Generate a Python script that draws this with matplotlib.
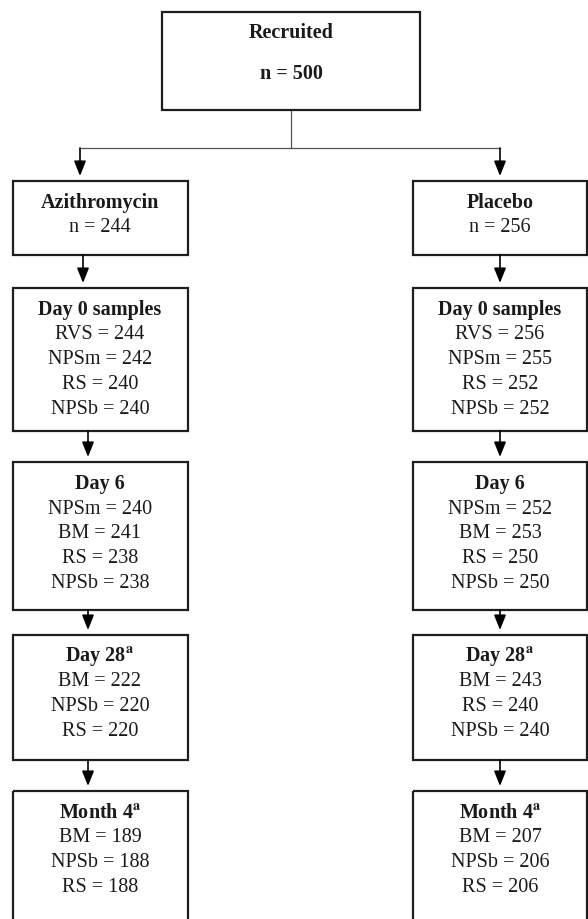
import matplotlib
matplotlib.use('Agg')
import matplotlib.pyplot as plt
from matplotlib.patches import Rectangle, FancyArrowPatch

plt.rcParams['font.family'] = ['Liberation Serif', 'DejaVu Serif']
plt.rcParams['mathtext.fontset'] = 'stix'

# data
recruited = 500
arms = ['Azithromycin', 'Placebo']
arm_n = [244, 256]
stages = ['Day 0 samples', 'Day 6', 'Day 28', 'Month 4']
stage_note = [False, False, True, True]  # footnote "a"
azi_samples = [
    [('RVS', 244), ('NPSm', 242), ('RS', 240), ('NPSb', 240)],
    [('NPSm', 240), ('BM', 241), ('RS', 238), ('NPSb', 238)],
    [('BM', 222), ('NPSb', 220), ('RS', 220)],
    [('BM', 189), ('NPSb', 188), ('RS', 188)],
]
pla_samples = [
    [('RVS', 256), ('NPSm', 255), ('RS', 252), ('NPSb', 252)],
    [('NPSm', 252), ('BM', 253), ('RS', 250), ('NPSb', 250)],
    [('BM', 243), ('RS', 240), ('NPSb', 240)],
    [('BM', 207), ('NPSb', 206), ('RS', 206)],
]

# layout (pixel units, y downward)
col_x = [(13, 188), (413, 587)]
col_text_x = [100, 500]
col_arrow_x = [[80, 83, 88, 88, 88], [500, 500, 500, 500, 500]]
box_y = [(182, 256), (289, 432), (463, 611), (636, 761), (792, 930)]
split_y = 149
top_box = (162, 420, 13, 111)

EDGE = '#1e1e1e'
TXT = '#1a1a1a'
FS = 14.5

fig = plt.figure(figsize=(5.88, 9.2), dpi=100)
ax = fig.add_axes([0, 0, 1, 1])
ax.set_xlim(0, 588)
ax.set_ylim(920, 0)
ax.axis('off')


def box(x0, x1, y0, y1):
    ax.add_patch(Rectangle((x0, y0), x1 - x0, y1 - y0, fill=False,
                           edgecolor=EDGE, linewidth=1.6, zorder=2))


def arrow(x, y0, y1):
    ax.add_patch(FancyArrowPatch((x, y0), (x, y1),
                                 arrowstyle='-|>,head_length=0.5,head_width=0.2',
                                 mutation_scale=18, color='black',
                                 linewidth=1.2, shrinkA=0, shrinkB=0, zorder=3))


# recruited box
bx0, bx1, by0, by1 = top_box
box(bx0, bx1, by0, by1)
ax.text((bx0 + bx1) / 2, 33, 'Recruited', ha='center', va='center',
        fontsize=FS, fontweight='bold', color=TXT)
ax.text((bx0 + bx1) / 2, 74, 'n = %d' % recruited, ha='center', va='center',
        fontsize=FS, fontweight='bold', color=TXT)

# split lines
mid = (bx0 + bx1) / 2
ax.plot([mid, mid], [by1, split_y], color='#555555', lw=0.9, zorder=1)
ax.plot([col_arrow_x[0][0], col_arrow_x[1][0]], [split_y, split_y],
        color='#555555', lw=0.9, zorder=1)

for c, samples in enumerate([azi_samples, pla_samples]):
    x0, x1 = col_x[c]
    tx = col_text_x[c]
    # arrow from split line to arm box
    arrow(col_arrow_x[c][0], split_y, box_y[0][0] - 5)
    # arm box
    y0, y1 = box_y[0]
    box(x0, x1, y0, y1)
    ax.text(tx, y0 + 21, arms[c], ha='center', va='center', fontsize=FS,
            fontweight='bold', color=TXT)
    ax.text(tx, y0 + 46, 'n = %d' % arm_n[c], ha='center', va='center',
            fontsize=FS, color=TXT)
    for s, stage in enumerate(stages):
        y0, y1 = box_y[s + 1]
        arrow(col_arrow_x[c][s + 1], box_y[s][1], y0 - 5)
        box(x0, x1, y0, y1)
        title = stage
        if stage_note[s]:
            title = stage + r'$^{\mathbf{a}}$'
        ax.text(tx, y0 + 21, title, ha='center', va='center', fontsize=FS,
                fontweight='bold', color=TXT)
        for k, (name, val) in enumerate(samples[s]):
            ax.text(tx, y0 + 46 + 25 * k, '%s = %d' % (name, val),
                    ha='center', va='center', fontsize=FS, color=TXT)

fig.savefig('out.png', dpi=100, facecolor='white')
